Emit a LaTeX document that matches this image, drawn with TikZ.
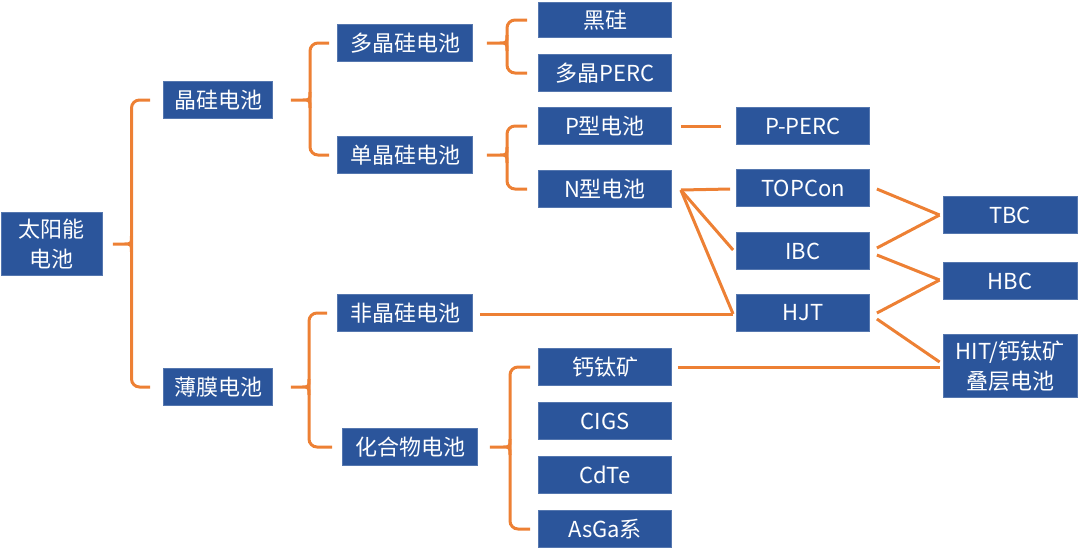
\documentclass[tikz,border=0pt]{standalone}
\usepackage{fontspec}
\setmainfont{Noto Sans CJK SC}
\usetikzlibrary{calc}
\definecolor{boxblue}{RGB}{43,85,155}
\definecolor{linkorange}{RGB}{237,128,52}
\tikzset{
  cell/.style={fill=boxblue, draw=boxblue!80!white, line width=0.8pt, text=white,
    font=\fontsize{22}{30}\selectfont, inner sep=0pt, align=center,
    minimum height=37pt},
  w1/.style={cell, minimum width=109pt},
  w2/.style={cell, minimum width=135pt},
  w3/.style={cell, minimum width=133pt},
  link/.style={draw=linkorange, line width=3pt},
  bracepath/.style={draw=linkorange, line width=3pt, rounded corners=8pt},
}
% brace: parent, top child, bottom child, tip gap, end gap
\newcommand{\bracelink}[5]{%
  \draw[bracepath] let \p1=($(#1.east)+(#4,0)$), \p2=($(#2.west)+(-#5,0)$),
      \p3=($(#3.west)+(-#5,0)$), \n1={0.5*(\x1+\x2)} in
    (\x2,\y2) -- ({\n1*1pt},\y2) -- ({\n1*1pt},\y3) -- (\x3,\y3);
  \draw[link] let \p1=($(#1.east)+(#4,0)$), \p2=($(#2.west)+(-#5,0)$),
      \n1={0.5*(\x1+\x2)} in
    ({\n1*1pt},{\y1+8pt}) .. controls ({\n1*1pt},\y1) .. ({\n1*1pt-8pt},\y1) -- (\x1,\y1)
    ({\n1*1pt},{\y1-8pt}) .. controls ({\n1*1pt},\y1) .. ({\n1*1pt-8pt},\y1);
}
\begin{document}
\begin{tikzpicture}[x=1pt,y=-1pt]
\useasboundingbox (0,0) rectangle (1080,550);
% level 0
\node[cell, minimum width=101pt, minimum height=63pt] (root) at (52,244) {太阳能\\电池};
% level 1
\node[w1] (jg) at (218,100) {晶硅电池};
\node[w1] (bm) at (218,387) {薄膜电池};
% level 2
\node[w2] (djg) at (405,43) {多晶硅电池};
\node[w2] (dan) at (405,155) {单晶硅电池};
\node[w2] (fjg) at (405,313) {非晶硅电池};
\node[w2] (hhw) at (410,447) {化合物电池};
% level 3
\node[w3, minimum height=35pt] (hg) at (605,20) {黑硅};
\node[w3] (dperc) at (605,73) {多晶PERC};
\node[w3] (pxing) at (605,126) {P型电池};
\node[w3] (nxing) at (605,189) {N型电池};
\node[w3] (gtk) at (605,367) {钙钛矿};
\node[w3] (cigs) at (605,421) {CIGS};
\node[w3] (cdte) at (605,475) {CdTe};
\node[w3] (asga) at (605,529) {AsGa系};
% level 4
\node[w3] (pperc) at (803,126) {P-PERC};
\node[w3] (topcon) at (803,188) {TOPCon};
\node[w3] (ibc) at (803,251) {IBC};
\node[w3] (hjt) at (803,313) {HJT};
% level 5
\node[w3, minimum width=134pt] (tbc) at (1010,215) {TBC};
\node[w3, minimum width=134pt] (hbc) at (1010,281) {HBC};
\node[w3, minimum width=134pt, minimum height=63pt] (hit) at (1010,366) {HIT/钙钛矿\\叠层电池};
% braces
\bracelink{root}{jg}{bm}{10}{13}
\bracelink{jg}{djg}{dan}{18}{8}
\bracelink{bm}{fjg}{hhw}{18}{10}
\bracelink{djg}{hg}{dperc}{14}{11}
\bracelink{dan}{pxing}{nxing}{14}{11}
\bracelink{hhw}{gtk}{asga}{12}{8}
% straight links
\draw[link] ($(pxing.east)+(9,0)$) -- ($(pperc.west)+(-15,0)$);
\coordinate (nstart) at ($(nxing.east)+(9,1)$);
\draw[link] (nstart) -- ($(topcon.west)+(-6,1)$);
\draw[link] (nstart) -- ($(ibc.west)+(-3,-1)$);
\draw[link] (nstart) -- ($(hjt.west)+(-3,1)$);
\draw[link] ($(fjg.east)+(7,1)$) -- ($(hjt.west)+(-3,1)$);
\draw[link] ($(topcon.east)+(7,1)$) -- ($(tbc.west)+(-3,0)$);
\draw[link] ($(ibc.east)+(7,-3)$) -- ($(tbc.west)+(-3,0)$);
\draw[link] ($(ibc.east)+(7,4)$) -- ($(hbc.west)+(-3,-1)$);
\draw[link] ($(hjt.east)+(7,0)$) -- ($(hbc.west)+(-3,-1)$);
\draw[link] ($(hjt.east)+(7,6)$) -- ($(hit.west)+(-3,-4)$);
\draw[link] ($(gtk.east)+(6,0)$) -- ($(hit.west)+(-3,1)$);
\end{tikzpicture}
\end{document}
